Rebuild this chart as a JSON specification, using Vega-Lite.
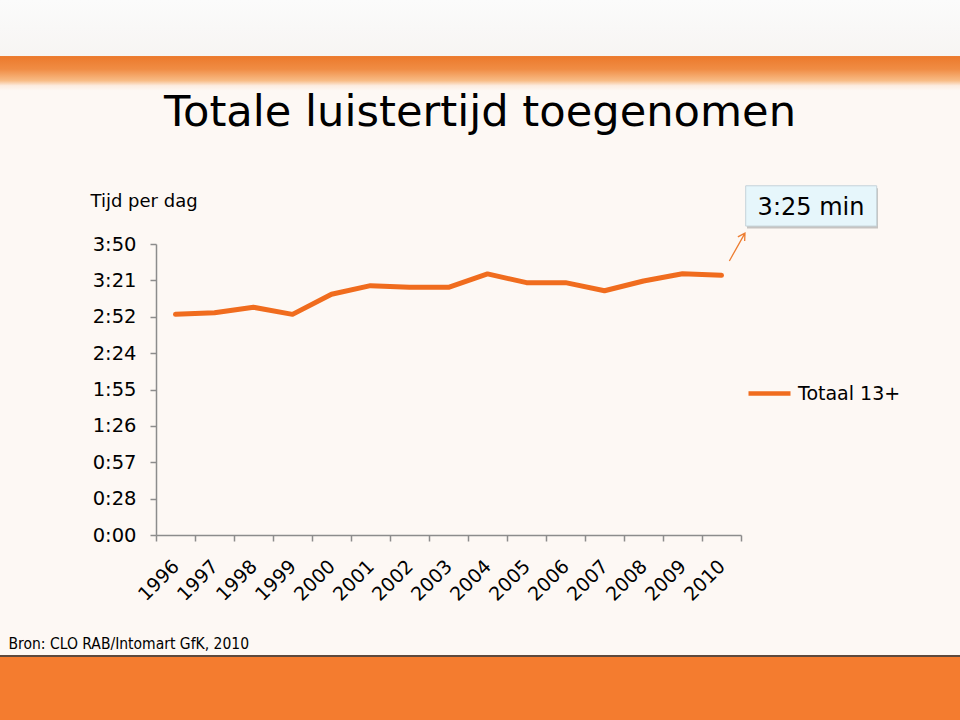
{
  "$schema": "https://vega.github.io/schema/vega-lite/v6.json",
  "width": 960,
  "height": 720,
  "autosize": {"type": "none"},
  "padding": 0,
  "background": "#ffffff",
  "config": {"font": "DejaVu Sans"},
  "view": {
    "stroke": null,
    "fill": {
      "gradient": "linear", "x1": 0, "y1": 0, "x2": 0, "y2": 1,
      "stops": [
        {"offset": 0, "color": "#fbfbfb"},
        {"offset": 0.0775, "color": "#f7f5f3"},
        {"offset": 0.0785, "color": "#ec7a2c"},
        {"offset": 0.096, "color": "#f08c44"},
        {"offset": 0.112, "color": "#f8bc86"},
        {"offset": 0.119, "color": "#fcece0"},
        {"offset": 0.126, "color": "#fdf8f4"},
        {"offset": 0.9095, "color": "#fdf8f4"},
        {"offset": 0.9096, "color": "#5e4a3e"},
        {"offset": 0.9125, "color": "#5e4a3e"},
        {"offset": 0.9126, "color": "#f47c2f"},
        {"offset": 1, "color": "#f47c2f"}
      ]
    }
  },
  "title": {
    "text": "Totale luistertijd toegenomen",
    "anchor": "middle",
    "frame": "group",
    "offset": -169,
    "baseline": "alphabetic",
    "fontSize": 43.2,
    "fontWeight": "normal",
    "font": "DejaVu Sans",
    "color": "#000000"
  },
  "data": {
    "values": [
      {"year": 1996, "minutes": 174.7, "series": "Totaal 13+", "note": ""},
      {"year": 1997, "minutes": 176.0, "series": "Totaal 13+", "note": ""},
      {"year": 1998, "minutes": 180.3, "series": "Totaal 13+", "note": ""},
      {"year": 1999, "minutes": 174.7, "series": "Totaal 13+", "note": ""},
      {"year": 2000, "minutes": 190.6, "series": "Totaal 13+", "note": ""},
      {"year": 2001, "minutes": 197.4, "series": "Totaal 13+", "note": ""},
      {"year": 2002, "minutes": 196.1, "series": "Totaal 13+", "note": ""},
      {"year": 2003, "minutes": 196.1, "series": "Totaal 13+", "note": ""},
      {"year": 2004, "minutes": 206.7, "series": "Totaal 13+", "note": ""},
      {"year": 2005, "minutes": 199.8, "series": "Totaal 13+", "note": ""},
      {"year": 2006, "minutes": 199.8, "series": "Totaal 13+", "note": ""},
      {"year": 2007, "minutes": 193.4, "series": "Totaal 13+", "note": ""},
      {"year": 2008, "minutes": 201.1, "series": "Totaal 13+", "note": ""},
      {"year": 2009, "minutes": 206.9, "series": "Totaal 13+", "note": ""},
      {"year": 2010, "minutes": 205.6, "series": "Totaal 13+", "note": "3:25 min"}
    ]
  },
  "encoding": {
    "x": {
      "field": "year",
      "type": "ordinal",
      "bandPosition": 0.5,
      "scale": {"type": "band", "range": [156, 741], "paddingInner": 0, "paddingOuter": 0},
      "axis": {
        "offset": -185,
        "title": "Bron: CLO RAB/Intomart GfK, 2010",
        "titleX": 8,
        "titleY": 113,
        "titleAlign": "left",
        "titleBaseline": "alphabetic",
        "titleFont": "DejaVu Sans Condensed",
        "titleFontSize": 15.5,
        "titleFontWeight": "normal",
        "titleColor": "#000000",
        "labelAngle": -45,
        "labelAlign": "right",
        "labelBaseline": "middle",
        "labelPadding": 22,
        "labelFontSize": 19,
        "labelColor": "#000000",
        "labelOverlap": false,
        "tickBand": "extent",
        "tickSize": 6,
        "tickWidth": 1.5,
        "tickColor": "#8c8c8c",
        "domainColor": "#8c8c8c",
        "domainWidth": 1.5,
        "grid": false
      }
    },
    "y": {
      "field": "minutes",
      "type": "quantitative",
      "scale": {"domain": [0, 230.4], "range": [535, 244], "nice": false, "zero": true},
      "axis": {
        "offset": -156,
        "title": "Tijd per dag",
        "titleX": -66,
        "titleY": 206,
        "titleAngle": 0,
        "titleAlign": "left",
        "titleBaseline": "alphabetic",
        "titleFontSize": 18,
        "titleFontWeight": "normal",
        "titleColor": "#000000",
        "values": [0, 28.8, 57.6, 86.4, 115.2, 144, 172.8, 201.6, 230.4],
        "labelExpr": "floor(datum.value / 60) + ':' + (floor(datum.value % 60) < 10 ? '0' : '') + floor(datum.value % 60)",
        "labelFontSize": 19.5,
        "labelColor": "#000000",
        "labelPadding": 14,
        "labelBaseline": "middle",
        "tickSize": 6,
        "tickWidth": 1.5,
        "tickColor": "#8c8c8c",
        "domainColor": "#8c8c8c",
        "domainWidth": 1.5,
        "grid": false
      }
    }
  },
  "layer": [
    {
      "mark": {"type": "line", "strokeWidth": 5, "strokeCap": "round", "strokeJoin": "round"},
      "encoding": {
        "stroke": {
          "field": "series",
          "type": "nominal",
          "scale": {"range": ["#f06c1e"]},
          "legend": {
            "title": null,
            "orient": "none",
            "legendX": 746,
            "legendY": 370,
            "symbolType": "stroke",
            "symbolSize": 1764,
            "symbolStrokeWidth": 4.5,
            "labelFontSize": 19,
            "labelColor": "#000000",
            "labelOffset": 5,
            "padding": 0
          }
        }
      }
    },
    {
      "transform": [{"filter": "datum.note != ''"}],
      "mark": {
        "type": "point",
        "shape": "M-1,-0.3076L1,-0.3076L1,0.3076L-1,0.3076Z",
        "size": 17161,
        "filled": true,
        "fill": "#8f8f8f",
        "opacity": 0.5,
        "strokeWidth": 0,
        "xOffset": 91,
        "yOffset": -67
      }
    },
    {
      "transform": [{"filter": "datum.note != ''"}],
      "mark": {
        "type": "point",
        "shape": "M-1,-0.3076L1,-0.3076L1,0.3076L-1,0.3076Z",
        "size": 17161,
        "filled": true,
        "fill": "#e6f6fb",
        "stroke": "#c5d3d9",
        "strokeWidth": 1,
        "opacity": 1,
        "xOffset": 89.7,
        "yOffset": -69.4
      }
    },
    {
      "transform": [{"filter": "datum.note != ''"}],
      "mark": {
        "type": "text",
        "fontSize": 24,
        "color": "#000000",
        "align": "center",
        "baseline": "alphabetic",
        "dx": 89.5,
        "dy": -60.3
      },
      "encoding": {"text": {"field": "note"}}
    },
    {
      "transform": [{"filter": "datum.note != ''"}],
      "mark": {
        "type": "point",
        "shape": "M-0.45,0.82L0.47,-0.82M0.05,-0.6L0.47,-0.82L0.45,-0.35",
        "size": 1156,
        "filled": false,
        "stroke": "#ed7d31",
        "strokeWidth": 1.3,
        "opacity": 1,
        "xOffset": 15.5,
        "yOffset": -28.3
      }
    }
  ]
}
